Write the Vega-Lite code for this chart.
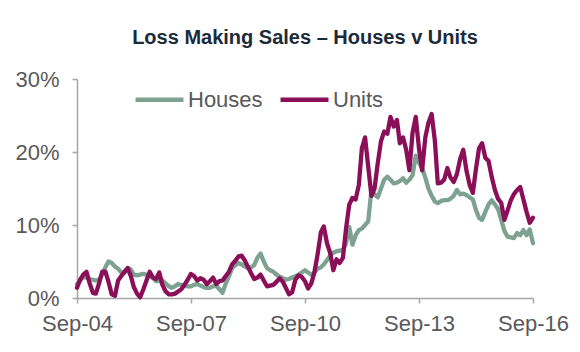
{
  "$schema": "https://vega.github.io/schema/vega-lite/v6.json",
  "width": 456,
  "height": 219,
  "autosize": {"type": "none"},
  "padding": {"left": 77, "top": 79, "right": 47, "bottom": 54},
  "background": "white",
  "title": {"text": "Loss Making Sales – Houses v Units", "anchor": "middle", "font": "Liberation Sans", "fontSize": 20, "fontWeight": "bold", "color": "#1c2b39", "offset": 20},
  "config": {"view": {"stroke": null}},
  "data": {"values": [
    {"d":"2004-09-01","Houses":1.9,"Units":1.4},
    {"d":"2004-10-01","Houses":2.4,"Units":2.5},
    {"d":"2004-11-01","Houses":2.9,"Units":3.2},
    {"d":"2004-12-01","Houses":2.8,"Units":3.6},
    {"d":"2005-01-01","Houses":2.6,"Units":2.0},
    {"d":"2005-02-01","Houses":2.5,"Units":0.7},
    {"d":"2005-03-01","Houses":2.4,"Units":0.6},
    {"d":"2005-04-01","Houses":2.5,"Units":2.0},
    {"d":"2005-05-01","Houses":3.2,"Units":3.6},
    {"d":"2005-06-01","Houses":4.2,"Units":3.6},
    {"d":"2005-07-01","Houses":5.0,"Units":2.2},
    {"d":"2005-08-01","Houses":4.8,"Units":0.5},
    {"d":"2005-09-01","Houses":4.3,"Units":0.3},
    {"d":"2005-10-01","Houses":4.0,"Units":2.4},
    {"d":"2005-11-01","Houses":3.5,"Units":3.0},
    {"d":"2005-12-01","Houses":3.4,"Units":3.6},
    {"d":"2006-01-01","Houses":4.1,"Units":4.1},
    {"d":"2006-02-01","Houses":3.9,"Units":3.0},
    {"d":"2006-03-01","Houses":3.2,"Units":1.5},
    {"d":"2006-04-01","Houses":3.1,"Units":0.6},
    {"d":"2006-05-01","Houses":3.2,"Units":0.1},
    {"d":"2006-06-01","Houses":3.3,"Units":1.2},
    {"d":"2006-07-01","Houses":3.2,"Units":2.4},
    {"d":"2006-08-01","Houses":3.0,"Units":3.6},
    {"d":"2006-09-01","Houses":2.7,"Units":2.8},
    {"d":"2006-10-01","Houses":2.3,"Units":2.6},
    {"d":"2006-11-01","Houses":2.3,"Units":3.5},
    {"d":"2006-12-01","Houses":2.4,"Units":1.8},
    {"d":"2007-01-01","Houses":2.0,"Units":0.9},
    {"d":"2007-02-01","Houses":1.6,"Units":0.5},
    {"d":"2007-03-01","Houses":1.4,"Units":0.5},
    {"d":"2007-04-01","Houses":1.6,"Units":0.6},
    {"d":"2007-05-01","Houses":1.9,"Units":0.9},
    {"d":"2007-06-01","Houses":1.8,"Units":1.2},
    {"d":"2007-07-01","Houses":1.7,"Units":1.8},
    {"d":"2007-08-01","Houses":1.6,"Units":2.5},
    {"d":"2007-09-01","Houses":1.6,"Units":3.3},
    {"d":"2007-10-01","Houses":1.8,"Units":3.0},
    {"d":"2007-11-01","Houses":1.9,"Units":2.4},
    {"d":"2007-12-01","Houses":1.7,"Units":2.7},
    {"d":"2008-01-01","Houses":1.5,"Units":2.5},
    {"d":"2008-02-01","Houses":1.4,"Units":1.9},
    {"d":"2008-03-01","Houses":1.4,"Units":2.3},
    {"d":"2008-04-01","Houses":1.6,"Units":2.8},
    {"d":"2008-05-01","Houses":1.7,"Units":1.9},
    {"d":"2008-06-01","Houses":1.2,"Units":2.3},
    {"d":"2008-07-01","Houses":0.7,"Units":2.4},
    {"d":"2008-08-01","Houses":2.0,"Units":3.0},
    {"d":"2008-09-01","Houses":3.0,"Units":3.6},
    {"d":"2008-10-01","Houses":4.1,"Units":4.6},
    {"d":"2008-11-01","Houses":4.5,"Units":5.1},
    {"d":"2008-12-01","Houses":4.8,"Units":5.7},
    {"d":"2009-01-01","Houses":4.6,"Units":5.8},
    {"d":"2009-02-01","Houses":4.3,"Units":5.1},
    {"d":"2009-03-01","Houses":4.1,"Units":4.3},
    {"d":"2009-04-01","Houses":4.2,"Units":3.4},
    {"d":"2009-05-01","Houses":4.5,"Units":2.6},
    {"d":"2009-06-01","Houses":5.5,"Units":2.8},
    {"d":"2009-07-01","Houses":6.1,"Units":3.2},
    {"d":"2009-08-01","Houses":5.0,"Units":2.4},
    {"d":"2009-09-01","Houses":4.1,"Units":1.6},
    {"d":"2009-10-01","Houses":3.8,"Units":1.7},
    {"d":"2009-11-01","Houses":3.6,"Units":1.8},
    {"d":"2009-12-01","Houses":3.2,"Units":2.2},
    {"d":"2010-01-01","Houses":2.9,"Units":2.7},
    {"d":"2010-02-01","Houses":2.7,"Units":2.2},
    {"d":"2010-03-01","Houses":2.5,"Units":1.4},
    {"d":"2010-04-01","Houses":2.6,"Units":0.5},
    {"d":"2010-05-01","Houses":2.8,"Units":0.8},
    {"d":"2010-06-01","Houses":3.0,"Units":2.5},
    {"d":"2010-07-01","Houses":3.2,"Units":3.1},
    {"d":"2010-08-01","Houses":3.5,"Units":2.9},
    {"d":"2010-09-01","Houses":3.8,"Units":2.3},
    {"d":"2010-10-01","Houses":3.5,"Units":1.3},
    {"d":"2010-11-01","Houses":3.2,"Units":2.0},
    {"d":"2010-12-01","Houses":3.5,"Units":3.5},
    {"d":"2011-01-01","Houses":4.0,"Units":6.0},
    {"d":"2011-02-01","Houses":4.2,"Units":9.0},
    {"d":"2011-03-01","Houses":4.6,"Units":9.8},
    {"d":"2011-04-01","Houses":5.2,"Units":7.5},
    {"d":"2011-05-01","Houses":5.8,"Units":6.2},
    {"d":"2011-06-01","Houses":6.2,"Units":3.8},
    {"d":"2011-07-01","Houses":6.4,"Units":5.3},
    {"d":"2011-08-01","Houses":6.5,"Units":4.8},
    {"d":"2011-09-01","Houses":6.6,"Units":5.5},
    {"d":"2011-10-01","Houses":7.5,"Units":9.5},
    {"d":"2011-11-01","Houses":9.7,"Units":12.8},
    {"d":"2011-12-01","Houses":7.3,"Units":13.7},
    {"d":"2012-01-01","Houses":8.6,"Units":13.5},
    {"d":"2012-02-01","Houses":9.3,"Units":15.5},
    {"d":"2012-03-01","Houses":9.5,"Units":20.5},
    {"d":"2012-04-01","Houses":10.0,"Units":22.0},
    {"d":"2012-05-01","Houses":10.5,"Units":18.0},
    {"d":"2012-06-01","Houses":14.8,"Units":14.0},
    {"d":"2012-07-01","Houses":14.2,"Units":15.0},
    {"d":"2012-08-01","Houses":13.8,"Units":18.5},
    {"d":"2012-09-01","Houses":15.0,"Units":21.5},
    {"d":"2012-10-01","Houses":16.2,"Units":22.8},
    {"d":"2012-11-01","Houses":16.6,"Units":22.5},
    {"d":"2012-12-01","Houses":16.2,"Units":24.8},
    {"d":"2013-01-01","Houses":15.7,"Units":23.5},
    {"d":"2013-02-01","Houses":15.8,"Units":24.4},
    {"d":"2013-03-01","Houses":16.0,"Units":21.2},
    {"d":"2013-04-01","Houses":16.4,"Units":22.0},
    {"d":"2013-05-01","Houses":15.8,"Units":20.3},
    {"d":"2013-06-01","Houses":16.2,"Units":17.5},
    {"d":"2013-07-01","Houses":16.8,"Units":22.6},
    {"d":"2013-08-01","Houses":19.5,"Units":24.8},
    {"d":"2013-09-01","Houses":18.5,"Units":20.5},
    {"d":"2013-10-01","Houses":17.8,"Units":17.5},
    {"d":"2013-11-01","Houses":16.5,"Units":22.0},
    {"d":"2013-12-01","Houses":15.0,"Units":24.0},
    {"d":"2014-01-01","Houses":14.0,"Units":25.2},
    {"d":"2014-02-01","Houses":13.2,"Units":21.5},
    {"d":"2014-03-01","Houses":13.0,"Units":15.7},
    {"d":"2014-04-01","Houses":13.3,"Units":15.8},
    {"d":"2014-05-01","Houses":13.4,"Units":16.2},
    {"d":"2014-06-01","Houses":13.4,"Units":17.8},
    {"d":"2014-07-01","Houses":13.6,"Units":16.5},
    {"d":"2014-08-01","Houses":14.0,"Units":15.9},
    {"d":"2014-09-01","Houses":14.8,"Units":17.0},
    {"d":"2014-10-01","Houses":14.2,"Units":19.0},
    {"d":"2014-11-01","Houses":14.3,"Units":20.3},
    {"d":"2014-12-01","Houses":14.1,"Units":17.5},
    {"d":"2015-01-01","Houses":13.8,"Units":15.5},
    {"d":"2015-02-01","Houses":13.5,"Units":14.4},
    {"d":"2015-03-01","Houses":12.1,"Units":17.5},
    {"d":"2015-04-01","Houses":11.0,"Units":20.5},
    {"d":"2015-05-01","Houses":10.7,"Units":21.2},
    {"d":"2015-06-01","Houses":11.8,"Units":19.2},
    {"d":"2015-07-01","Houses":12.8,"Units":18.8},
    {"d":"2015-08-01","Houses":13.4,"Units":16.6},
    {"d":"2015-09-01","Houses":12.8,"Units":14.8},
    {"d":"2015-10-01","Houses":12.2,"Units":13.6},
    {"d":"2015-11-01","Houses":10.7,"Units":13.0},
    {"d":"2015-12-01","Houses":9.2,"Units":10.7},
    {"d":"2016-01-01","Houses":8.4,"Units":12.0},
    {"d":"2016-02-01","Houses":8.3,"Units":13.4},
    {"d":"2016-03-01","Houses":8.2,"Units":14.2},
    {"d":"2016-04-01","Houses":8.9,"Units":14.8},
    {"d":"2016-05-01","Houses":8.6,"Units":15.2},
    {"d":"2016-06-01","Houses":9.3,"Units":13.5},
    {"d":"2016-07-01","Houses":8.6,"Units":11.8},
    {"d":"2016-08-01","Houses":9.4,"Units":10.3},
    {"d":"2016-09-01","Houses":7.5,"Units":11.0}
  ]},
  "transform": [{"fold": ["Houses", "Units"], "as": ["series", "value"]}],
  "mark": {"type": "line", "strokeWidth": 4.3, "strokeJoin": "round", "strokeCap": "round"},
  "encoding": {
    "x": {
      "field": "d", "type": "temporal",
      "scale": {"type": "utc", "domain": [{"year": 2004, "month": 9, "date": 1, "utc": true}, {"year": 2016, "month": 9, "date": 1, "utc": true}]},
      "axis": {
        "title": null, "grid": false,
        "values": [{"year": 2004, "month": 9, "date": 1, "utc": true}, {"year": 2007, "month": 9, "date": 1, "utc": true}, {"year": 2010, "month": 9, "date": 1, "utc": true}, {"year": 2013, "month": 9, "date": 1, "utc": true}, {"year": 2016, "month": 9, "date": 1, "utc": true}],
        "labelExpr": "utcFormat(datum.value, '%b-%y')",
        "labelFont": "Liberation Sans", "labelFontSize": 22, "labelColor": "#595959",
        "labelPadding": 10, "tickSize": 5, "tickColor": "#a6a6a6", "domainColor": "#a6a6a6", "domainWidth": 1.5, "tickWidth": 1.5,
        "labelOverlap": false, "labelFlush": false
      }
    },
    "y": {
      "field": "value", "type": "quantitative",
      "scale": {"domain": [0, 30], "nice": false},
      "axis": {
        "title": null, "grid": false, "values": [0, 10, 20, 30],
        "labelExpr": "datum.value + '%'",
        "labelFont": "Liberation Sans", "labelFontSize": 22, "labelColor": "#595959",
        "labelPadding": 13, "tickSize": 5, "tickColor": "#a6a6a6", "domainColor": "#a6a6a6", "domainWidth": 1.5, "tickWidth": 1.5
      }
    },
    "color": {
      "field": "series", "type": "nominal",
      "scale": {"domain": ["Houses", "Units"], "range": ["#7ea292", "#8a0f58"]},
      "legend": {
        "title": null, "orient": "none", "legendX": 56, "legendY": -6, "direction": "horizontal",
        "symbolType": "stroke", "symbolSize": 2300, "symbolStrokeWidth": 4.3,
        "labelFont": "Liberation Sans", "labelFontSize": 22, "labelColor": "#595959",
        "labelOffset": 2, "columnPadding": 8, "padding": 0
      }
    }
  }
}
